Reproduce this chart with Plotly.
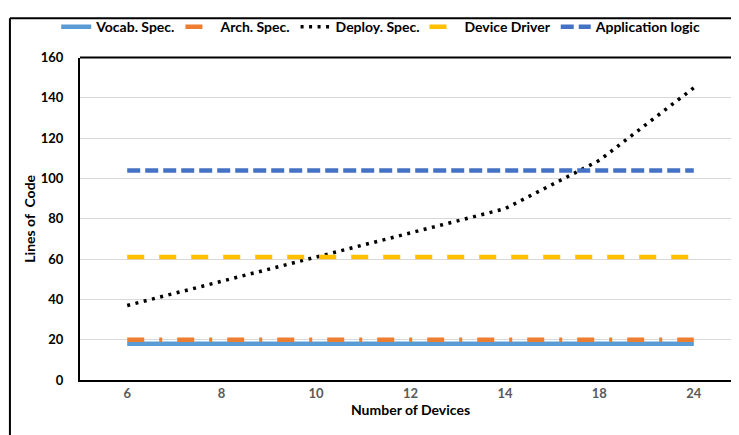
import plotly.graph_objects as go

devices = ["6", "8", "10", "12", "14", "18", "24"]
vocab_spec = [18, 18, 18, 18, 18, 18, 18]
arch_spec = [20, 20, 20, 20, 20, 20, 20]
deploy_spec = [37, 49, 61, 73, 85, 109, 145]
device_driver = [61, 61, 61, 61, 61, 61, 61]
app_logic = [104, 104, 104, 104, 104, 104, 104]

FONT = "Lato, 'Open Sans', sans-serif"

fig = go.Figure()
fig.add_trace(go.Scatter(x=devices, y=vocab_spec, name="Vocab. Spec.", mode="lines",
                         line=dict(color="#5B9BD5", width=4.5)))
fig.add_trace(go.Scatter(x=devices, y=arch_spec, name="Arch. Spec.", mode="lines",
                         line=dict(color="#ED7D31", width=4.5, dash="17px,15px,3px,15px")))
fig.add_trace(go.Scatter(x=devices, y=deploy_spec, name="Deploy. Spec.", mode="lines",
                         line=dict(color="#000000", width=3.5, dash="3px,5.5px")))
fig.add_trace(go.Scatter(x=devices, y=device_driver, name="Device Driver", mode="lines",
                         line=dict(color="#FFC000", width=4.5, dash="17px,15px")))
fig.add_trace(go.Scatter(x=devices, y=app_logic, name="Application logic", mode="lines",
                         line=dict(color="#4472C4", width=4.5, dash="13px,5px")))

# outer frame (left and top edges visible)
fig.add_shape(type="line", xref="paper", yref="paper", x0=-0.106, x1=-0.106, y0=1.122, y1=-0.3,
              line=dict(color="black", width=2))
fig.add_shape(type="line", xref="paper", yref="paper", x0=-0.106, x1=1.05, y0=1.122, y1=1.122,
              line=dict(color="black", width=2))
# plot area top border
fig.add_shape(type="line", xref="paper", yref="paper", x0=0, x1=1.05, y0=1, y1=1,
              line=dict(color="black", width=2))

fig.update_layout(
    width=739, height=435,
    margin=dict(l=72, r=6, t=45, b=63),
    paper_bgcolor="white", plot_bgcolor="white",
    font=dict(family=FONT, color="#000000"),
    showlegend=True,
    legend=dict(orientation="h", xref="container", yref="container", x=0.505, y=0.956,
                xanchor="center", yanchor="middle",
                font=dict(size=14, family=FONT, color="#000000", weight="bold"),
                itemwidth=30, tracegroupgap=0, bgcolor="rgba(0,0,0,0)"),
    xaxis=dict(type="category", range=[-0.5, 6.5], showgrid=False,
               showline=True, linecolor="black", linewidth=2, ticks="",
               tickfont=dict(size=13, color="#595959", weight="bold", family=FONT),
               title=dict(text="Number of Devices", standoff=6,
                          font=dict(size=14, color="#000000", weight="bold", family=FONT))),
    yaxis=dict(range=[0, 160], dtick=20, showgrid=True, gridcolor="#D9D9D9", gridwidth=1,
               showline=True, linecolor="black", linewidth=2, zeroline=False, ticks="",
               ticklabelstandoff=12,
               tickfont=dict(size=13, color="#000000", weight="bold", family=FONT),
               title=dict(text="Lines of\u00a0\u00a0Code", standoff=2,
                          font=dict(size=14, color="#000000", weight="bold", family=FONT))),
)

fig.write_html("out.html")
